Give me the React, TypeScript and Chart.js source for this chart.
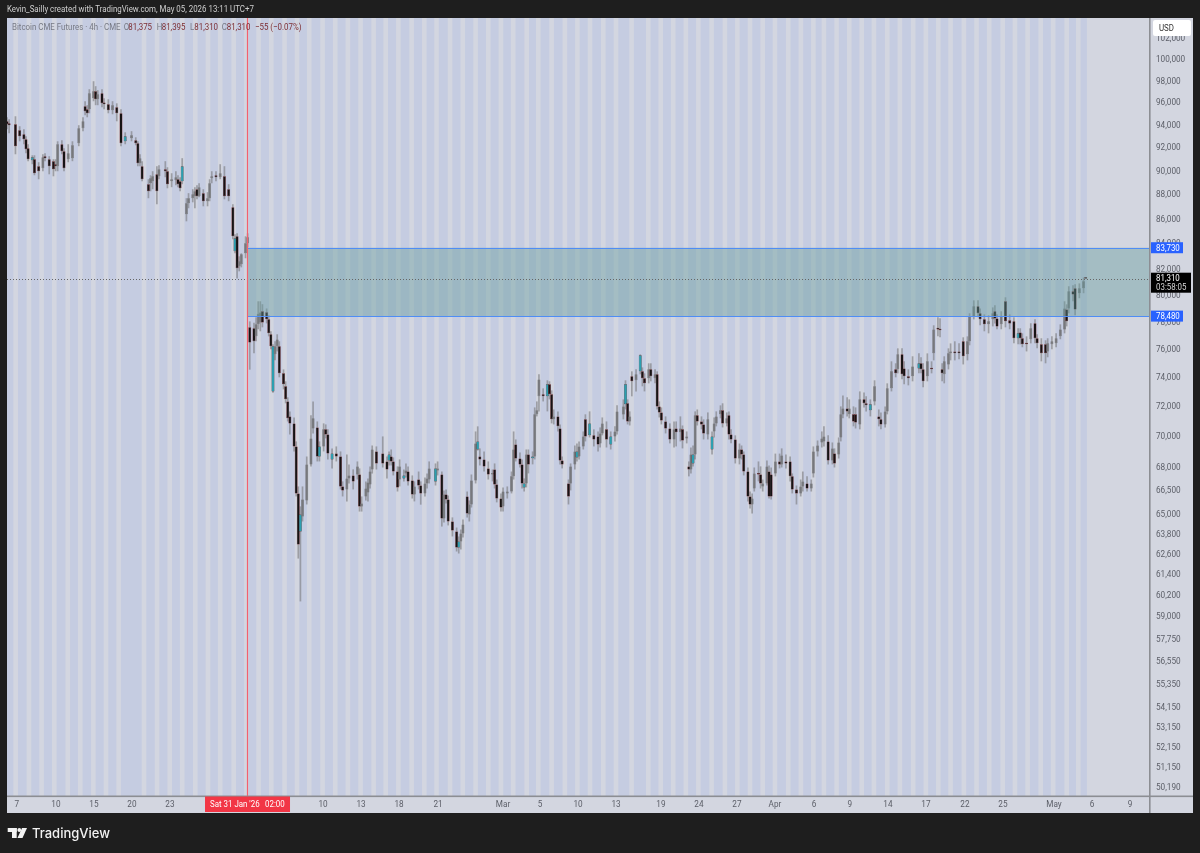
import { useEffect, useRef } from 'react';
import { Chart, registerables } from 'chart.js';

Chart.register(...registerables);

const barIndex = [
	0, 1, 4, 6, 8, 9, 10, 12, 13, 15,
	17, 18, 20, 22, 23, 24, 26, 27, 29, 31,
	34, 36, 37, 38, 39, 41, 42, 43, 45, 46,
	48, 50, 52, 54, 56, 59, 61, 62, 63, 64,
	67, 68, 69, 71, 72, 75, 76, 78, 80, 81,
	82, 83, 85, 86, 88, 89, 90, 91, 93, 95,
	96, 97, 99, 101, 103, 105, 107, 108, 109, 110,
	111, 113, 114, 115, 117, 118, 119, 120, 121, 123,
	124, 125, 126, 127, 128, 129, 131, 132, 133, 134,
	136, 137, 138, 139, 140, 142, 144, 145, 147, 148,
	150, 151, 152, 154, 156, 158, 159, 161, 162, 164,
	166, 167, 168, 170, 171, 172, 173, 175, 178, 180,
	181, 182, 183, 185, 186, 188, 189, 190, 192, 193,
	195, 196, 198, 199, 200, 203, 204, 206, 207, 208,
	209, 211, 213, 214, 215, 216, 218, 219, 220, 222,
	223, 224, 226, 228, 230, 231, 232, 234, 235, 237,
	239, 240, 241, 243, 244, 245, 246, 247, 249, 250,
	251, 252, 254, 256, 257, 258, 259, 261, 262, 263,
	266, 267, 269, 270, 271, 273, 274, 276, 278, 280,
	281, 282, 284, 286, 288, 289, 292, 293, 294, 295,
	296, 298, 300, 301, 302, 304, 305, 307, 308, 309,
	310, 312, 314, 316, 317, 319, 320, 322, 323, 324,
	325, 326, 327, 329, 330, 332, 334, 335, 336, 338,
	339, 341, 342, 343, 345, 347, 348, 349, 351, 352,
	353, 354, 356, 357, 358, 360, 361, 362, 364, 366,
	367, 369, 371, 372, 374, 376, 377, 379, 381, 382,
	384, 386, 387, 389, 391, 392, 394, 395, 396, 398,
	399, 401, 402, 404, 406, 407, 409, 411, 413, 414,
	416, 417, 419, 421, 422, 424, 425, 427, 429, 432,
	433, 434, 436, 438, 439, 441, 442, 443, 444, 446,
	447, 449, 451, 453, 455, 456, 458, 460, 461, 463,
	465, 467, 468, 469, 471, 473, 475, 477, 479, 480,
	481, 483, 485, 487, 488, 490, 492, 493, 495, 497,
	499, 501, 502, 503, 505, 506, 508, 510, 511,
];

const opens = [
	94380, 94200, 94120, 93580, 93230, 92790, 92000, 90960, 91050, 90450,
	90280, 91310, 91050, 90880, 90620, 90450, 92350, 91740, 91050, 91140,
	92440, 93760, 95740, 95460, 95460, 96460, 97100, 96370, 96920, 96000,
	95920, 95370, 95650, 95100, 92610, 92880, 92700, 92440, 90700, 90450,
	88920, 89000, 89170, 89760, 89590, 90190, 90020, 89170, 89250, 89340,
	89170, 89170, 86420, 87330, 87750, 87910, 88500, 87910, 88170, 87500,
	87750, 89420, 89680, 89510, 89590, 88500, 87000, 84480, 84640, 82270,
	82430, 83290, 84080, 77650, 77580, 76990, 77870, 78010, 78840, 78760,
	78240, 77140, 76270, 75690, 76270, 76270, 74340, 73430, 72390, 71370,
	70900, 69370, 66350, 64000, 64920, 65910, 68200, 70560, 70630, 68710,
	69370, 70500, 70160, 68520, 68910, 68710, 66790, 66600, 67300, 67490,
	67550, 67550, 65540, 66160, 66410, 66910, 67870, 69040, 68910, 68390,
	68450, 68710, 68390, 67740, 67230, 67300, 67620, 67740, 67170, 66290,
	67230, 66850, 66350, 66980, 67230, 67940, 67810, 67550, 64790, 66290,
	65970, 64610, 64000, 63040, 63400, 63880, 66160, 65040, 65660, 67170,
	69700, 68710, 68520, 67940, 67550, 67870, 66910, 66030, 65540, 66350,
	66470, 67430, 69500, 68580, 68200, 66730, 66980, 68840, 68590, 68710,
	71510, 72740, 72880, 72740, 73570, 72880, 71170, 71370, 70560, 68450,
	66980, 66980, 68200, 68650, 68710, 69370, 71170, 70900, 70100, 70030,
	69560, 70230, 70500, 69500, 70030, 70360, 71500, 72190, 72260, 71030,
	74130, 73850, 74480, 74480, 73990, 73990, 74620, 73990, 74270, 72050,
	71640, 71030, 70560, 69830, 70560, 70300, 70500, 69900, 68070, 67870,
	68840, 68840, 71440, 71030, 70830, 70160, 70030, 70360, 70900, 71510,
	71780, 70900, 71440, 70160, 69830, 68580, 69170, 68840, 67740, 66160,
	65660, 66660, 67610, 67550, 66790, 66980, 67740, 67550, 67620, 68390,
	68200, 68390, 68390, 67430, 66600, 66350, 66790, 66980, 66660, 67610,
	69040, 69630, 69700, 69700, 68450, 68910, 68840, 69960, 71500, 71910,
	71510, 71510, 71510, 70830, 72530, 72260, 72190, 72390, 71370, 71170,
	70830, 71710, 73290, 74620, 74620, 75690, 74690, 74130, 74130, 74690,
	75050, 74620, 74130, 74690, 75760, 77580, 77500, 74620, 74270, 74970,
	75760, 75900, 75900, 76630, 75690, 76630, 78460, 79210, 78690, 78240,
	77870, 78240, 78840, 78310, 77870, 79590, 78170, 78090, 76850, 77280,
	76850, 76480, 76780, 77950, 76850, 76410, 76410, 75900, 76410, 76480,
	76990, 77500, 78970, 79050, 80350, 80570, 80200, 80570, 81375,
];

const highs = [
	94740, 94560, 94830, 93940, 93670, 93050, 92350, 91390, 91390, 90790,
	91480, 91570, 91310, 91050, 91050, 92610, 92700, 92000, 92350, 92610,
	94030, 94740, 96190, 95830, 97290, 98030, 97570, 97200, 97290, 96460,
	96370, 96190, 96000, 95460, 93400, 93500, 92960, 92610, 91480, 90880,
	89340, 89680, 90020, 90450, 90530, 90880, 90360, 89850, 90020, 89680,
	89510, 91140, 87750, 88170, 88500, 88670, 88830, 89000, 88500, 88250,
	89340, 90020, 90020, 90620, 90450, 88920, 87240, 84800, 84880, 83050,
	83290, 84640, 84880, 78090, 77980, 78390, 79590, 79590, 79370, 79050,
	78540, 77360, 76410, 76630, 77140, 76630, 74620, 73780, 72670, 71710,
	71300, 69700, 66790, 65540, 66790, 68710, 71440, 72390, 71030, 69700,
	70900, 70830, 70500, 69240, 69370, 69040, 67110, 68840, 68200, 67880,
	68390, 67940, 66160, 67110, 67300, 68070, 69430, 69370, 70030, 68710,
	69040, 69170, 68650, 68070, 68520, 67870, 68260, 68070, 67490, 67110,
	67740, 67110, 67360, 67620, 68390, 68260, 68390, 67740, 66540, 66600,
	66220, 64860, 64240, 63700, 64120, 64730, 66470, 65910, 67550, 70360,
	70700, 69240, 69040, 68390, 67870, 68260, 67230, 66350, 66730, 66790,
	67740, 70360, 69830, 68970, 68520, 67300, 69170, 69170, 69040, 71980,
	72390, 74270, 73290, 73850, 73780, 73150, 71840, 71710, 70830, 68710,
	67230, 68260, 69430, 69560, 69700, 70360, 71510, 71710, 70500, 70360,
	70630, 71300, 71030, 70360, 70700, 72120, 72530, 73850, 72530, 71710,
	74480, 74620, 75690, 74760, 74340, 75050, 75050, 74620, 74480, 72390,
	71980, 71370, 70900, 71030, 71030, 71370, 70760, 70360, 68390, 69300,
	69430, 71710, 71840, 71370, 71170, 71640, 70360, 71300, 71710, 72120,
	72260, 71640, 71710, 70500, 70100, 69560, 69430, 69040, 68000, 66470,
	66350, 68000, 68390, 68070, 67230, 68450, 68130, 68000, 68900, 68900,
	69240, 68840, 68710, 67620, 66850, 67230, 67740, 67430, 67230, 69370,
	69760, 70360, 70700, 70100, 69630, 69240, 69960, 72050, 72800, 72670,
	72530, 72050, 71980, 73080, 73010, 72740, 72530, 73850, 71840, 71640,
	72050, 73640, 75190, 75050, 76120, 76120, 75190, 74620, 75550, 75760,
	75480, 75050, 75760, 75190, 77800, 78390, 78320, 75050, 75550, 76120,
	76480, 76630, 76480, 76920, 76990, 78690, 79660, 79660, 79050, 78610,
	78540, 79130, 79290, 78610, 78840, 79890, 78610, 78390, 77580, 77580,
	77210, 76990, 77950, 78240, 77140, 76850, 76700, 76850, 76990, 77210,
	77870, 79590, 79360, 80730, 80800, 80880, 80950, 81400, 81395,
];

const lows = [
	93670, 93320, 91480, 92610, 92350, 91570, 90880, 90620, 89680, 89340,
	90020, 90880, 89760, 89590, 90020, 90020, 91480, 90020, 90790, 90880,
	92180, 93500, 94920, 94740, 95100, 96190, 95830, 95830, 95650, 95460,
	95100, 95010, 94380, 92180, 92350, 92610, 92260, 90450, 90450, 89170,
	87750, 88330, 88500, 87240, 89340, 89510, 88580, 88670, 88830, 88670,
	88330, 88920, 85850, 86920, 87410, 86920, 87660, 87830, 87080, 87080,
	87500, 89000, 89170, 89340, 87660, 87500, 84400, 83300, 81320, 81880,
	82190, 82900, 83770, 74600, 75760, 76630, 77510, 77360, 77650, 77940,
	76990, 76050, 72990, 75260, 75900, 74060, 73220, 72260, 71030, 70160,
	69040, 66160, 62380, 59900, 64610, 65660, 68070, 70230, 68390, 68390,
	69040, 69900, 68520, 67940, 68390, 66600, 66160, 65850, 66980, 66600,
	67230, 65220, 65220, 65910, 65850, 66660, 67610, 67870, 68000, 67300,
	68130, 68130, 67490, 66470, 66790, 67110, 67360, 66850, 66030, 65850,
	66600, 65650, 66160, 66660, 66980, 66850, 67490, 64300, 64550, 65720,
	64370, 63700, 62800, 62680, 62920, 63640, 64850, 64610, 65470, 66980,
	69100, 68130, 67740, 67230, 67110, 66660, 65790, 65220, 65220, 66030,
	66350, 67230, 68390, 68000, 66660, 66470, 66730, 67620, 68200, 68520,
	71370, 71710, 72390, 71710, 72530, 70900, 70830, 70360, 68200, 67940,
	65660, 66540, 67870, 68390, 68520, 69170, 69700, 69960, 69370, 69040,
	69300, 70100, 69300, 69170, 69700, 70160, 71170, 71840, 70830, 70760,
	72740, 73080, 74270, 73430, 73080, 73640, 73780, 73640, 71840, 71300,
	70830, 70230, 69570, 69300, 69370, 69700, 69240, 69570, 67430, 67620,
	68070, 68520, 70760, 70500, 69830, 69830, 68840, 69960, 70700, 71240,
	70630, 70700, 69830, 69570, 68260, 68200, 68520, 67490, 65850, 65410,
	65100, 66470, 67110, 66660, 66470, 66850, 66030, 65970, 67430, 67940,
	68000, 67940, 67110, 66350, 65660, 66160, 66470, 66470, 66470, 67360,
	68710, 69300, 69370, 68200, 68200, 68000, 68580, 69700, 71240, 71370,
	71240, 70700, 70560, 70500, 71980, 71710, 71370, 72120, 70700, 70500,
	70630, 71510, 73080, 74060, 74340, 73920, 73570, 73500, 73780, 74340,
	74340, 73360, 73780, 74340, 75260, 76990, 76920, 73780, 73640, 74620,
	75260, 75260, 75330, 74970, 75260, 76340, 78240, 78390, 77800, 77360,
	77210, 77720, 77940, 77510, 77510, 77650, 77510, 76480, 76410, 76410,
	76200, 75900, 76480, 76480, 76120, 75190, 75050, 75480, 76050, 76200,
	76780, 77210, 77720, 78690, 79590, 78540, 79820, 80200, 81310,
];

const closes = [
	94120, 94030, 92180, 93050, 92790, 91920, 91050, 91220, 89850, 90020,
	91220, 91140, 90450, 90190, 90450, 92350, 91740, 90280, 91570, 92260,
	93760, 94380, 95280, 95100, 96920, 97100, 96370, 96830, 96000, 95920,
	95370, 95830, 95100, 92440, 93050, 93140, 92440, 90700, 91140, 89340,
	88330, 89420, 89590, 88330, 90190, 90020, 88920, 89340, 89510, 88920,
	88580, 90450, 87330, 87750, 88080, 88330, 87910, 88670, 87500, 87750,
	89000, 89590, 89510, 89850, 87910, 87910, 84640, 83450, 82110, 82660,
	83210, 84080, 84560, 76540, 76630, 77870, 78660, 78740, 78010, 78240,
	77210, 76270, 73080, 76270, 76770, 74340, 73570, 72530, 71240, 70900,
	69370, 66350, 63210, 65040, 65970, 68200, 69900, 71240, 68710, 69370,
	70500, 70160, 68910, 68910, 68710, 66790, 66540, 67300, 67490, 67110,
	68070, 65540, 65720, 66660, 67040, 67740, 69170, 68260, 68260, 67870,
	68840, 68390, 67740, 66730, 68070, 67490, 67810, 67110, 66290, 66790,
	66850, 66350, 66980, 67300, 67940, 67110, 67940, 64790, 66290, 65970,
	64610, 64060, 63040, 63400, 63880, 64430, 65100, 65660, 67170, 69560,
	69170, 68520, 68070, 67550, 67620, 66910, 66030, 65470, 66470, 66470,
	67430, 69170, 68580, 68200, 66980, 66980, 68840, 68200, 68710, 71510,
	71780, 73910, 72740, 73570, 72880, 71170, 71370, 70700, 68450, 68200,
	66160, 68070, 69040, 69040, 69370, 70030, 70030, 70100, 69830, 69500,
	70230, 70900, 69830, 70030, 70360, 71710, 72050, 73570, 71030, 71370,
	73780, 74270, 75620, 73990, 73640, 74620, 74130, 74270, 72050, 71640,
	71100, 70560, 69830, 70500, 70300, 70560, 69760, 70030, 67870, 68840,
	68260, 71440, 71030, 70830, 70230, 71170, 69170, 70900, 71370, 71780,
	70900, 71240, 70160, 69830, 68580, 69170, 68840, 67740, 66160, 65660,
	66030, 67610, 67550, 66980, 66980, 68070, 66160, 66160, 68390, 68200,
	68780, 68260, 67430, 66600, 66350, 66790, 67110, 66660, 66980, 69040,
	69430, 69900, 70030, 68450, 69240, 68260, 69630, 71510, 71910, 71710,
	71910, 71030, 70960, 72530, 72260, 72120, 71780, 73430, 71170, 70830,
	71710, 73290, 74480, 74340, 75690, 74270, 74130, 73990, 74830, 75050,
	74620, 73780, 75190, 74620, 77500, 77500, 77430, 74340, 75190, 75760,
	75900, 75760, 75760, 75550, 76630, 78460, 79210, 78690, 78240, 77870,
	78090, 78690, 78310, 77720, 78460, 78090, 77940, 76850, 77210, 76850,
	76410, 76410, 77580, 76850, 76480, 75760, 75760, 76480, 76630, 76850,
	77500, 79050, 78090, 80350, 80100, 78970, 80570, 81110, 81310,
];

// candles TradingView painted with the teal fill
const tealBars = [12, 56, 83, 108, 126, 139, 148, 154, 181, 188, 203, 214, 223, 245, 249, 256, 270, 276, 286, 293, 300, 325, 334, 409, 432, 479];

// gaps between sessions, in bars
const sessionBreaks = [
	4.1, 10.4, 16.4, 22.4, 28.8, 34.7, 40.9, 46.9, 52.9, 64.9, 71.1, 77.1, 83, 89.2, 95.2, 101, 107.4, 113.4, 119.2, 125.2,
	131.5, 137.4, 143.2, 149.5, 155.5, 161.5, 167.5, 173.7, 179.4, 185.4, 191.7, 197.7, 203.5, 209.9, 215.9, 222, 228, 234, 239.8, 246.2,
	251.7, 258, 264.3, 270.2, 276.2, 282.5, 288.5, 295.9, 303.8, 309.7, 315.6, 321.6, 327.5, 333.8, 340.1, 346, 352, 358, 363.8, 370.1,
	376.1, 382, 387, 393, 399, 404.9, 410.7, 417, 423, 429.3, 435.3, 441.2, 447, 453.3, 459.3, 465.3, 471.7, 477.5, 483.5, 489.7,
	495.6, 502, 507.5,
];
const lastSessionEnd = 511.6;

const priceTicks = [
	102000, 100000, 98000, 96000, 94000, 92000, 90000, 88000, 86000, 84000, 82000, 80000, 78000, 76000, 74000, 72000, 70000, 68000,
	66500, 65000, 63800, 62600, 61400, 60200, 59000, 57750, 56550, 55350, 54150, 53150, 52150, 51150, 50190,
];
const dateTickBars = [4.7, 23.2, 41.2, 59.2, 77.2, 149.7, 167.7, 185.7, 204.2, 235, 252.5, 270.5, 288.5, 309.8, 327.8, 345.8, 363.8, 382.3, 399.3, 417.3, 435.3, 453.8, 471.8, 496, 514, 532];
const dateTickLabels = ['7', '10', '15', '20', '23', '10', '13', '18', '21', 'Mar', '5', '10', '13', '19', '24', '27', 'Apr', '6', '9', '14', '17', '22', '25', 'May', '6', '9'];

const zoneTop = 83730;
const zoneBottom = 78480;
const zoneStartBar = 113.7;
const crosshairBar = 113.7;
const lastPrice = 81310;

const yMin = 49820;
const yMax = 104078;
const xMax = 541;

const FONT = 'Roboto, sans-serif';
const PANEL = '#d3d6e0';
const SESSION = '#c5cce1';
const fmt = (v: number) => v.toLocaleString('en-US');

// the screenshot's font is narrower than anything installed
function narrowText(ctx: CanvasRenderingContext2D, text: string, px: number, py: number, color: string) {
	ctx.save();
	ctx.translate(px, py);
	ctx.scale(0.86, 1);
	ctx.fillStyle = color;
	ctx.font = `9.2px ${FONT}`;
	ctx.textAlign = 'left';
	ctx.textBaseline = 'middle';
	ctx.fillText(text, 0, 0);
	ctx.restore();
}

function axisTag(ctx: CanvasRenderingContext2D, text: string, y: number, color: string) {
	ctx.fillStyle = color;
	ctx.fillRect(1151, y - 5.5, 32, 11);
	narrowText(ctx, text, 1156, y + 0.5, '#ffffff');
}

const frame = {
	id: 'frame',
	beforeDraw(chart: any) {
		const { ctx, scales } = chart;
		const { x, y } = scales;
		ctx.save();
		ctx.fillStyle = '#1e1e1e';
		ctx.fillRect(0, 0, 1200, 853);
		ctx.fillStyle = PANEL;
		ctx.fillRect(7, 18, 1186, 795);
		ctx.fillStyle = SESSION;
		ctx.fillRect(x.getPixelForValue(0), y.top, x.getPixelForValue(lastSessionEnd) - x.getPixelForValue(0), y.bottom - y.top);
		ctx.restore();
	},
	afterDatasetsDraw(chart: any) {
		const { ctx, scales } = chart;
		const { x, y } = scales;
		const zx = x.getPixelForValue(zoneStartBar);
		const zt = y.getPixelForValue(zoneTop);
		const zb = y.getPixelForValue(zoneBottom);
		ctx.save();
		ctx.fillStyle = 'rgba(100,155,155,0.42)';
		ctx.fillRect(zx, zt, x.right - zx, zb - zt);
		ctx.strokeStyle = '#4f8df5';
		ctx.lineWidth = 1;
		ctx.beginPath();
		ctx.moveTo(zx, Math.round(zt) + 0.5);
		ctx.lineTo(x.right, Math.round(zt) + 0.5);
		ctx.moveTo(zx, Math.round(zb) + 0.5);
		ctx.lineTo(x.right, Math.round(zb) + 0.5);
		ctx.stroke();

		const lp = Math.round(y.getPixelForValue(lastPrice)) + 0.5;
		ctx.strokeStyle = '#666666';
		ctx.setLineDash([1, 2]);
		ctx.beginPath();
		ctx.moveTo(x.left, lp);
		ctx.lineTo(x.right, lp);
		ctx.stroke();
		ctx.setLineDash([]);

		const cx = Math.round(x.getPixelForValue(crosshairBar)) + 0.5;
		ctx.strokeStyle = '#f4606e';
		ctx.lineWidth = 1.2;
		ctx.beginPath();
		ctx.moveTo(cx, y.top);
		ctx.lineTo(cx, y.bottom);
		ctx.stroke();
		ctx.restore();
	},
	afterDraw(chart: any) {
		const { ctx, scales } = chart;
		const { x, y } = scales;
		ctx.save();
		// panel separators
		ctx.fillStyle = '#8c8e93';
		ctx.fillRect(y.left, 18, 1.6, 795);
		ctx.fillRect(7, x.top - 0.5, 1186, 1.6);

		narrowText(ctx, 'Kevin_Sailly created with TradingView.com, May 05, 2026 13:11 UTC+7', 7, 9.5, '#cfcfcf');

		// instrument line
		const gray = '#777a85';
		const red = '#7d2e33';
		const legend: [string, number, string][] = [
			['Bitcoin CME Futures · 4h · CME', 12, gray],
			['O', 123.7, gray],
			['81,375', 128.3, red],
			['H', 156.7, gray],
			['81,395', 161.7, red],
			['L', 190, gray],
			['81,310', 194.3, red],
			['C', 221.7, gray],
			['81,310', 226.7, red],
			['−55 (−0.07%)', 255, red],
		];
		for (const [text, px, color] of legend) narrowText(ctx, text, px, 27.5, color);

		// price tags
		axisTag(ctx, fmt(zoneTop), y.getPixelForValue(zoneTop), '#2962ff');
		axisTag(ctx, fmt(zoneBottom), y.getPixelForValue(zoneBottom), '#2962ff');
		const lp = y.getPixelForValue(lastPrice);
		ctx.fillStyle = '#000000';
		ctx.fillRect(1151, lp - 6, 40, 20);
		narrowText(ctx, fmt(lastPrice), 1156, lp, '#ffffff');
		narrowText(ctx, '03:58:05', 1156, lp + 9, '#d6d6d6');

		// currency button
		ctx.fillStyle = '#ffffff';
		ctx.beginPath();
		ctx.roundRect(1153, 20, 38, 16, 2);
		ctx.fill();
		narrowText(ctx, 'USD', 1159, 28.5, '#333333');

		// crosshair date
		const cx = x.getPixelForValue(crosshairBar);
		ctx.fillStyle = '#f23645';
		ctx.fillRect(cx - 42, 796.5, 85, 15.5);
		narrowText(ctx, "Sat 31 Jan '26", 210, 805, '#ffffff');
		narrowText(ctx, '02:00', 265, 805, '#ffffff');

		// logo
		ctx.fillStyle = '#f2f2f2';
		ctx.fillRect(7.7, 828, 9, 4);
		ctx.fillRect(12, 828, 4.7, 10);
		ctx.beginPath();
		ctx.arc(19.3, 830, 1.9, 0, Math.PI * 2);
		ctx.fill();
		ctx.beginPath();
		ctx.moveTo(22, 828);
		ctx.lineTo(27, 828);
		ctx.lineTo(22.5, 838);
		ctx.lineTo(17.5, 838);
		ctx.closePath();
		ctx.fill();
		ctx.font = '500 13px Inter, sans-serif';
		ctx.textAlign = 'left';
		ctx.textBaseline = 'alphabetic';
		ctx.fillText('TradingView', 32, 838);
		ctx.restore();
	},
};

export default function App() {
	const chartRef = useRef<HTMLCanvasElement>(null);

	useEffect(() => {
		document.body.style.margin = '0';
		document.body.style.background = '#1e1e1e';
		if (!chartRef.current) return;
		const isUp = (i: number) => closes[i] >= opens[i];
		const chart = new Chart(chartRef.current, {
			type: 'bar',
			data: {
				datasets: [
					{
						label: 'session breaks',
						data: sessionBreaks.map((x) => ({ x, y: [yMin, yMax] })),
						backgroundColor: PANEL,
						maxBarThickness: 4.6,
						barPercentage: 40,
						order: 3,
					},
					{
						label: 'wicks',
						data: barIndex.map((x, i) => ({ x, y: [lows[i], highs[i]] })),
						backgroundColor: 'rgba(125,125,128,0.62)',
						maxBarThickness: 1.7,
						barPercentage: 40,
						order: 2,
					},
					{
						label: 'bodies',
						data: barIndex.map((x, i) => ({ x, y: [opens[i], closes[i]] })),
						backgroundColor: barIndex.map((b, i) => (tealBars.includes(b) ? '#2b9fb0' : isUp(i) ? '#77787c' : '#171314')),
						borderColor: barIndex.map((b, i) => (tealBars.includes(b) ? '#2a2a2c' : isUp(i) ? '#6f7074' : '#7a2326')),
						borderWidth: 0.5,
						borderSkipped: false,
						minBarLength: 1.6,
						maxBarThickness: 3,
						barPercentage: 40,
						order: 1,
					},
				] as any,
			},
			options: {
				responsive: false,
				animation: false,
				devicePixelRatio: 1,
				events: [],
				datasets: { bar: { grouped: false } } as any,
				layout: { padding: { left: 7, right: 7, top: 18, bottom: 40 } },
				plugins: { legend: { display: false }, tooltip: { enabled: false } },
				scales: {
					x: {
						type: 'linear',
						offset: false,
						min: 0,
						max: xMax,
						grid: { display: false, drawTicks: false },
						border: { display: false },
						afterFit(scale: any) {
							scale.height = 17;
						},
						afterBuildTicks(scale: any) {
							scale.ticks = dateTickBars.map((value) => ({ value }));
						},
						ticks: {
							autoSkip: false,
							maxRotation: 0,
							padding: 4,
							color: '#5c5f68',
							font: { family: FONT, size: 8.2 },
							callback: (value: any) => dateTickLabels[dateTickBars.indexOf(value)],
						},
					},
					y: {
						type: 'logarithmic',
						position: 'right',
						min: yMin,
						max: yMax,
						grid: { display: false, drawTicks: false },
						border: { display: false },
						afterFit(scale: any) {
							scale.width = 44;
						},
						afterBuildTicks(scale: any) {
							scale.ticks = priceTicks.map((value) => ({ value }));
						},
						ticks: {
							autoSkip: false,
							padding: 7,
							color: '#5c5f68',
							font: { family: FONT, size: 8.2 },
							callback: (value: any) => fmt(value),
						},
					},
				},
			},
			plugins: [frame],
		});
		return () => chart.destroy();
	}, []);

	return <canvas ref={chartRef} width={1200} height={853} style={{ display: 'block' }} />;
}
